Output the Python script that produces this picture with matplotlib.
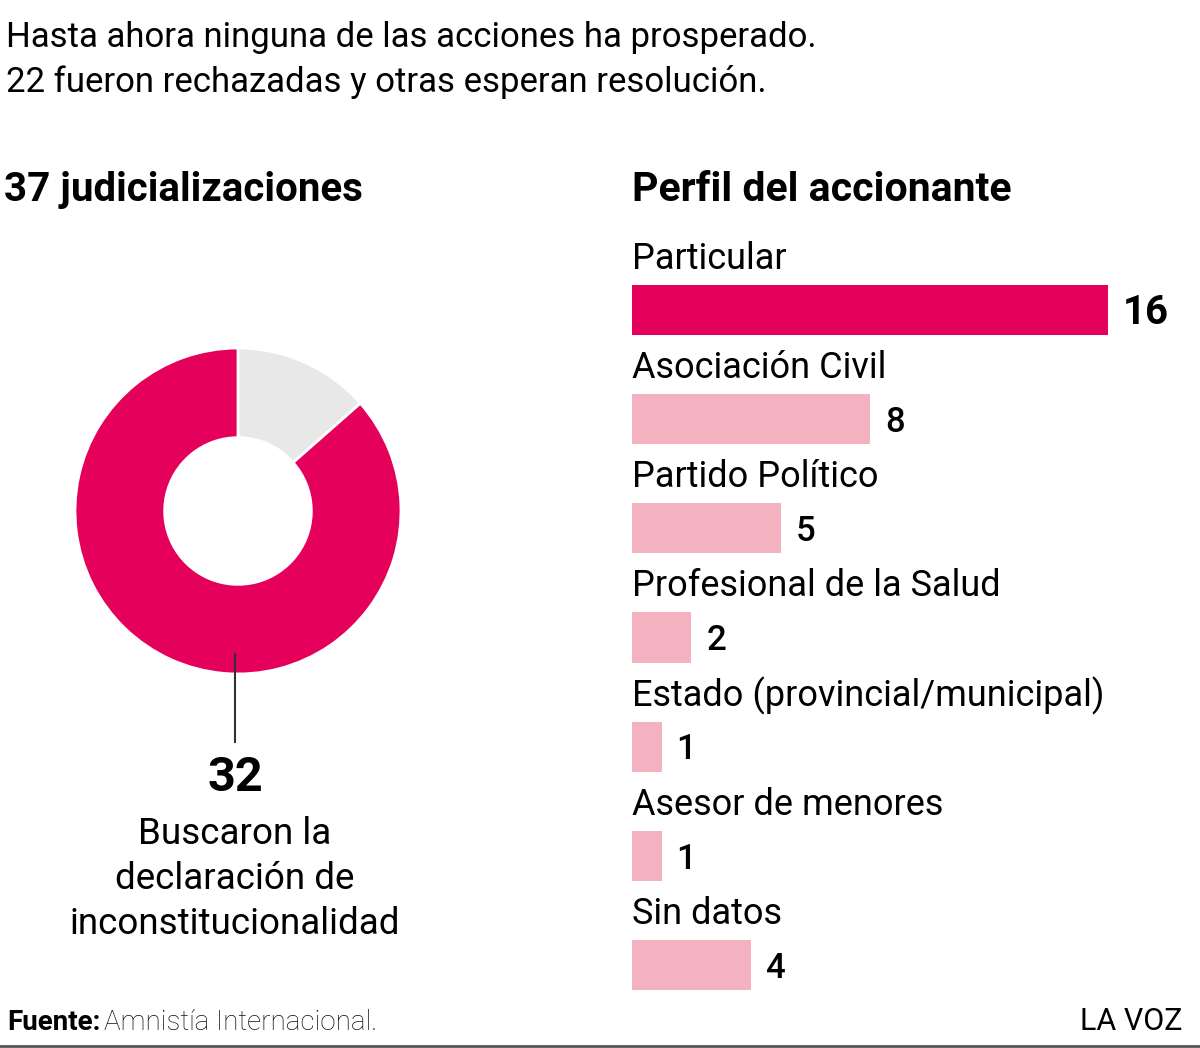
import matplotlib.pyplot as plt
from matplotlib.lines import Line2D

plt.rcParams['font.family'] = ['Roboto', 'DejaVu Sans']

# data
donut_labels = ['Otras', 'Buscaron la declaración de inconstitucionalidad']
donut_values = [5, 32]
categories = ['Particular', 'Asociación Civil', 'Partido Político', 'Profesional de la Salud',
              'Estado (provincial/municipal)', 'Asesor de menores', 'Sin datos']
counts = [16, 8, 5, 2, 1, 1, 4]

PINK = '#E4005B'
LIGHT = '#F4B2C0'
GREY = '#E8E8E8'

W, H = 1200, 1048
fig = plt.figure(figsize=(W / 100, H / 100), dpi=100)


def fx(px):
    return px / W


def fy(py):
    return 1 - py / H


# header
fig.text(fx(6), fy(38), 'Hasta ahora ninguna de las acciones ha prosperado.', fontsize=25, va='center')
fig.text(fx(6), fy(82), '22 fueron rechazadas y otras esperan resolución.', fontsize=25, va='center')
fig.text(fx(4), fy(190), '37 judicializaciones', fontsize=29, fontweight='bold', va='center')
fig.text(fx(632), fy(190), 'Perfil del accionante', fontsize=29.5, fontweight='bold', va='center')

# donut
cx, cy, r = 238, 511, 163
axd = fig.add_axes([fx(cx - r), fy(cy + r), 2 * r / W, 2 * r / H])
axd.pie(donut_values, colors=[GREY, PINK], startangle=90, counterclock=False, radius=1,
        wedgeprops=dict(width=0.55, edgecolor='white', linewidth=2))
axd.set_xlim(-1, 1)
axd.set_ylim(-1, 1)
axd.axis('off')
axd.add_line(Line2D([-0.02, -0.02], [-0.88, -1.42], color='#333333', lw=1.5, clip_on=False))

fig.text(fx(235), fy(778), str(donut_values[1]), fontsize=35, fontweight='bold', ha='center', va='center')
fig.text(fx(235), fy(879), 'Buscaron la\ndeclaración de\ninconstitucionalidad', fontsize=26.5,
         ha='center', va='center', linespacing=1.33)

# bars
step = 109.2
top, bottom = 310 - step / 2, 965 + step / 2
axb = fig.add_axes([fx(632), fy(bottom), 476 / W, (bottom - top) / H])
ypos = list(range(len(categories)))
bar_colors = [PINK] + [LIGHT] * (len(categories) - 1)
axb.barh(ypos, counts, height=0.46, color=bar_colors)
axb.set_xlim(0, max(counts))
axb.set_ylim(len(categories) - 0.5, -0.5)
axb.axis('off')
for i, (c, v) in enumerate(zip(categories, counts)):
    axb.text(0, i - 0.47, c, fontsize=26, va='center', ha='left', clip_on=False)
    axb.text(v + 0.5, i + 0.03, str(v), fontsize=29 if i == 0 else 25,
             fontweight='bold' if i == 0 else 'medium', va='center', ha='left', clip_on=False)

# footer
t = fig.text(fx(7), fy(1022), 'Fuente:', fontsize=20, fontweight='bold', va='center')
fig.canvas.draw()
bb = t.get_window_extent()
fig.text(bb.x1 / W + 0.003, fy(1022), 'Amnistía Internacional.', fontsize=20, va='center',
         color='#111111', fontweight='light')
fig.text(fx(1183), fy(1022), 'LA VOZ', fontsize=22, va='center', ha='right')
fig.add_artist(Line2D([0, 1], [fy(1046), fy(1046)], color='#555555', lw=2))

fig.savefig('out.png', dpi=100, facecolor='white')
